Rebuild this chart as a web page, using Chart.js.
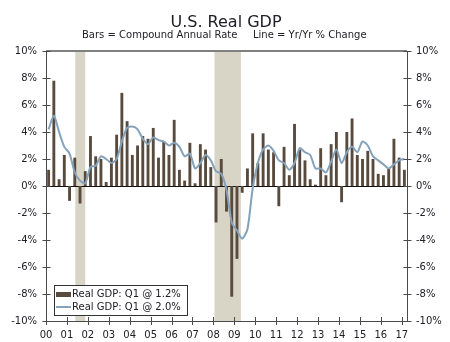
<!DOCTYPE html>
<html>
<head>
<meta charset="utf-8">
<title>U.S. Real GDP</title>
<script src="https://cdn.jsdelivr.net/npm/chart.js@4.4.1/dist/chart.umd.min.js"></script>
<style>
  html, body { margin: 0; padding: 0; background: #fff; }
  #wrap { width: 450px; height: 342px; }
</style>
</head>
<body>
<div id="wrap"><canvas id="chart-gdp" width="450" height="342"></canvas></div>
<script>
/* ══════════════════════════════════════════════════════════════════════════════
   DATA — quarterly, 2000 Q1 .. 2017 Q1
══════════════════════════════════════════════════════════════════════════════ */
const yearLabels = ["00", "01", "02", "03", "04", "05", "06", "07", "08",
  "09", "10", "11", "12", "13", "14", "15", "16", "17"];

// compound annual rate, %
const barValues = [
  1.2, 7.8, 0.5, 2.3,    -1.1, 2.1, -1.3, 1.1,   3.7, 2.2, 2.0, 0.3,
  2.1, 3.8, 6.9, 4.8,    2.3, 3.0, 3.7, 3.5,     4.3, 2.1, 3.3, 2.3,
  4.9, 1.2, 0.4, 3.2,    0.2, 3.1, 2.7, 1.4,     -2.7, 2.0, -1.9, -8.2,
  -5.4, -0.5, 1.3, 3.9,  1.7, 3.9, 2.7, 2.5,     -1.5, 2.9, 0.8, 4.6,
  2.7, 1.9, 0.5, 0.1,    2.8, 0.8, 3.1, 4.0,     -1.2, 4.0, 5.0, 2.3,
  2.0, 2.6, 2.0, 0.9,    0.8, 1.3, 3.5, 2.1,     1.2,
];

// year over year, %
const yoyValues = [
  4.2, 5.2, 4.0, 2.9,    2.4, 1.0, 0.4, 0.2,     1.4, 1.5, 2.2, 2.0,
  1.7, 2.0, 3.3, 4.3,    4.4, 4.2, 3.5, 3.1,     3.6, 3.4, 3.3, 3.0,
  3.2, 2.9, 2.2, 2.4,    1.3, 1.7, 2.3, 1.9,     1.1, 0.9, -0.3, -2.7,
  -3.3, -3.9, -3.2, -0.2, 1.7, 2.7, 3.0, 2.6,    1.9, 1.7, 1.2, 1.7,
  2.8, 2.5, 2.3, 1.3,    1.3, 1.0, 1.8, 2.7,     1.7, 2.5, 2.9, 2.5,
  3.3, 3.0, 2.2, 1.9,    1.6, 1.3, 1.6, 1.9,     2.0,
];

// shaded recessions, in quarters from the start of 2000
const recessionStart = [5.6, 32.2];
const recessionEnd = [7.5, 37.25];

const legendLabels = ["Real GDP: Q1 @ 1.2%", "Real GDP: Q1 @ 2.0%"];
const titleText = "U.S. Real GDP";
const subtitleLeft = "Bars = Compound Annual Rate";
const subtitleRight = "Line = Yr/Yr % Change";

/* ══════════════════════════════════════════════════════════════════════════════
   STYLE
══════════════════════════════════════════════════════════════════════════════ */
const FONT = "'DejaVu Sans', Verdana, sans-serif";
const CLR = {
  bar: "#594a3e",
  line: "#84a2b9",
  shade: "#d8d4c6",
  axis: "#4a4a4a",
  top: "#808080",
  text: "#202028",
};

const points = (vals) => vals.map((v, i) => ({ x: i + 0.5, y: v }));

/* ══════════════════════════════════════════════════════════════════════════════
   DECOR PLUGIN — recession bands, zero line, frame, cross ticks, legend, title
══════════════════════════════════════════════════════════════════════════════ */
const gdpDecor = {
  id: "gdpDecor",
  beforeDraw(chart) {
    const { ctx, chartArea: a, scales } = chart;
    ctx.save();
    ctx.fillStyle = CLR.shade;
    recessionStart.forEach((s, i) => {
      const x0 = scales.x.getPixelForValue(s);
      const x1 = scales.x.getPixelForValue(recessionEnd[i]);
      ctx.fillRect(x0, a.top, x1 - x0, a.bottom - a.top);
    });
    ctx.restore();
  },
  beforeDatasetsDraw(chart) {
    const { ctx, chartArea: a, scales } = chart;
    const y0 = Math.round(scales.y.getPixelForValue(0)) + 0.5;
    ctx.save();
    ctx.strokeStyle = "#111";
    ctx.lineWidth = 1;
    ctx.beginPath();
    ctx.moveTo(a.left, y0);
    ctx.lineTo(a.right, y0);
    ctx.stroke();
    ctx.restore();
  },
  afterDraw(chart) {
    const { ctx, chartArea: a, scales } = chart;
    ctx.save();

    // top frame line
    ctx.strokeStyle = CLR.top;
    ctx.lineWidth = 2;
    ctx.beginPath();
    ctx.moveTo(a.left, a.top);
    ctx.lineTo(a.right, a.top);
    ctx.stroke();

    // ticks crossing the axes
    ctx.strokeStyle = CLR.axis;
    ctx.lineWidth = 1;
    ctx.beginPath();
    ["y", "y2"].forEach((id) => {
      const s = scales[id];
      const xa = Math.round(id === "y" ? a.left : a.right) + 0.5;
      s.ticks.forEach((t, i) => {
        const p = Math.round(s.getPixelForTick(i)) + 0.5;
        ctx.moveTo(xa - 4, p);
        ctx.lineTo(xa + 4, p);
      });
    });
    scales.x.ticks.forEach((t, i) => {
      const p = Math.round(scales.x.getPixelForTick(i)) + 0.5;
      ctx.moveTo(p, a.bottom - 4);
      ctx.lineTo(p, a.bottom + 4);
    });
    ctx.stroke();

    // legend box
    const bx = a.left + 8, bw = 133, bh = 30;
    const by = a.bottom - 6 - bh;
    ctx.fillStyle = "#fff";
    ctx.fillRect(bx, by, bw, bh);
    ctx.strokeStyle = "#333";
    ctx.strokeRect(bx + 0.5, by + 0.5, bw, bh);
    ctx.fillStyle = CLR.bar;
    ctx.fillRect(bx + 2, by + 7, 15, 5);
    ctx.strokeStyle = CLR.line;
    ctx.lineWidth = 2;
    ctx.beginPath();
    ctx.moveTo(bx + 2, by + 22);
    ctx.lineTo(bx + 17, by + 22);
    ctx.stroke();
    ctx.font = `10px ${FONT}`;
    ctx.fillStyle = CLR.text;
    ctx.textAlign = "left";
    ctx.textBaseline = "alphabetic";
    ctx.fillText(legendLabels[0], bx + 18, by + 12);
    ctx.fillText(legendLabels[1], bx + 18, by + 25);

    // title + subtitle
    ctx.textAlign = "center";
    ctx.font = `16px ${FONT}`;
    ctx.fillText(titleText, 226, 27);
    ctx.font = `10px ${FONT}`;
    ctx.textAlign = "left";
    ctx.fillText(subtitleLeft, 82, 37.5);
    ctx.fillText(subtitleRight, 253, 37.5);

    ctx.restore();
  },
};

/* ══════════════════════════════════════════════════════════════════════════════
   CHART
══════════════════════════════════════════════════════════════════════════════ */
const tickFont = { family: FONT, size: 10 };
const yAxis = (position, width) => ({
  type: "linear",
  position,
  min: -10,
  max: 10,
  afterFit: (s) => { s.width = width; },
  ticks: {
    stepSize: 2,
    padding: 9,
    color: CLR.text,
    font: tickFont,
    callback: (v) => v + "%",
  },
  grid: { display: false, drawTicks: false },
  border: { display: true, color: CLR.axis, width: 1 },
});

new Chart(document.getElementById("chart-gdp"), {
  data: {
    datasets: [
      {
        type: "line",
        label: legendLabels[1],
        data: points(yoyValues),
        borderColor: CLR.line,
        borderWidth: 2,
        pointRadius: 0,
        tension: 0.25,
        order: 0,
      },
      {
        type: "bar",
        label: legendLabels[0],
        data: points(barValues),
        backgroundColor: CLR.bar,
        barPercentage: 0.55,
        categoryPercentage: 1,
        order: 1,
      },
    ],
  },
  options: {
    responsive: false,
    devicePixelRatio: 1,
    animation: false,
    layout: { padding: { top: 51, left: 0, right: 0, bottom: 0 } },
    plugins: {
      legend: { display: false },
      tooltip: { enabled: false },
    },
    scales: {
      x: {
        type: "linear",
        position: "bottom",
        offset: false,
        min: 0,
        max: 69,
        afterFit: (s) => { s.height = 21; },
        afterBuildTicks: (s) => {
          s.ticks = yearLabels.map((_, i) => ({ value: i * 4 }));
        },
        ticks: {
          autoSkip: false,
          maxRotation: 0,
          padding: 8,
          color: CLR.text,
          font: tickFont,
          callback: (v) => yearLabels[v / 4],
        },
        grid: { display: false, drawTicks: false, offset: false },
        border: { display: true, color: CLR.axis, width: 1 },
      },
      y: yAxis("left", 46),
      y2: yAxis("right", 43),
    },
  },
  plugins: [gdpDecor],
});
</script>
</body>
</html>
